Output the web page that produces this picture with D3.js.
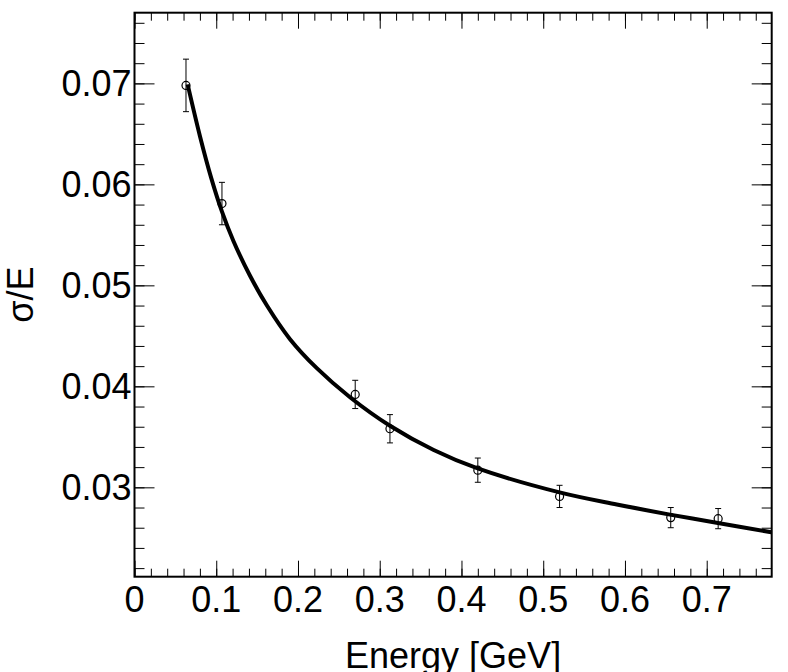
<!DOCTYPE html>
<html>
<head>
<meta charset="utf-8">
<script src="https://cdn.jsdelivr.net/npm/d3@7"></script>
<style>
  body { margin: 0; background: #fff; }
  svg { display: block; }
  text { font-family: "Liberation Sans", Arial, Helvetica, sans-serif; fill: #000; }
</style>
</head>
<body>
<svg id="chart"></svg>
<script>
// measured points (energy in GeV, relative resolution, error)
const energy = [0.063, 0.107, 0.270, 0.3125, 0.420, 0.520, 0.656, 0.714];
const sigmaE = [0.0698, 0.0581, 0.0392, 0.0358, 0.0317, 0.0291, 0.0270, 0.0269];
const sigmaErr = [0.0026, 0.0021, 0.0014, 0.0014, 0.0012, 0.0011, 0.0010, 0.0010];

// fit curve
const fitE = [0.065, 0.080, 0.094, 0.107, 0.121, 0.141, 0.162, 0.190, 0.223, 0.264, 0.3125, 0.366, 0.419, 0.520, 0.590, 0.655, 0.712, 0.779];
const fitSigma = [0.0699, 0.0648, 0.0606, 0.0573, 0.0544, 0.0510, 0.0480, 0.0447, 0.0418, 0.0389, 0.0361, 0.0337, 0.0319, 0.0295, 0.0283, 0.0273, 0.0265, 0.02555];

const xTicks = [0, 0.1, 0.2, 0.3, 0.4, 0.5, 0.6, 0.7];
const yTicks = [0.03, 0.04, 0.05, 0.06, 0.07];
const xTitle = "Energy [GeV]";
const yTitle = "σ/E";

const W = 788, H = 672;
const margin = {top: 12.7, right: 16.3, bottom: 95.3, left: 134.5};
const width = W - margin.left - margin.right;
const height = H - margin.top - margin.bottom;

const svg = d3.select("#chart").attr("width", W).attr("height", H);
const g = svg.append("g").attr("transform", `translate(${margin.left},${margin.top})`);

const x = d3.scaleLinear().domain([0, 0.7795]).range([0, width]);
const y = d3.scaleLinear().domain([0.02115, 0.077]).range([height, 0]);

// ticks on all four sides, pointing inward (ROOT style)
function drawTicks(axisFn, scale, vals, len, transform) {
    g.append("g")
        .attr("transform", transform)
        .call(axisFn(scale).tickValues(vals).tickSize(-len).tickFormat(""))
        .call(s => s.select(".domain").remove())
        .call(s => s.selectAll("line").attr("stroke", "#000").attr("stroke-width", 1));
}
const xMinor = x.ticks(40), yMinor = y.ticks(28);
drawTicks(d3.axisBottom, x, xMinor, 8, `translate(0,${height})`);
drawTicks(d3.axisBottom, x, xTicks, 16, `translate(0,${height})`);
drawTicks(d3.axisTop, x, xMinor, 8, "translate(0,0)");
drawTicks(d3.axisTop, x, xTicks, 16, "translate(0,0)");
drawTicks(d3.axisLeft, y, yMinor, 10, "translate(0,0)");
drawTicks(d3.axisLeft, y, yTicks, 20, "translate(0,0)");
drawTicks(d3.axisRight, y, yMinor, 10, `translate(${width},0)`);
drawTicks(d3.axisRight, y, yTicks, 20, `translate(${width},0)`);

// frame
g.append("rect")
    .attr("width", width).attr("height", height)
    .attr("fill", "none").attr("stroke", "#000").attr("stroke-width", 2);

// tick labels
g.selectAll(".xlab").data(xTicks).enter().append("text")
    .attr("x", d => x(d)).attr("y", height + 35.5)
    .attr("text-anchor", "middle").attr("font-size", 36)
    .text(d => d3.format("~g")(d));
g.selectAll(".ylab").data(yTicks).enter().append("text")
    .attr("x", -3).attr("y", d => y(d) + 13)
    .attr("text-anchor", "end").attr("font-size", 36)
    .text(d => d3.format(".2f")(d));

// axis titles
svg.append("text")
    .attr("x", margin.left + width / 2).attr("y", 668)
    .attr("text-anchor", "middle").attr("font-size", 36)
    .text(xTitle);
svg.append("text")
    .attr("transform", `translate(33,${margin.top + height / 2}) rotate(-90)`)
    .attr("text-anchor", "middle").attr("font-size", 36)
    .text(yTitle);

// fit curve
const line = d3.line().x(d => x(d[0])).y(d => y(d[1])).curve(d3.curveCatmullRom.alpha(0.5));
g.append("path")
    .datum(d3.zip(fitE, fitSigma))
    .attr("d", line)
    .attr("fill", "none").attr("stroke", "#000").attr("stroke-width", 4);

// points with error bars
const pts = d3.zip(energy, sigmaE, sigmaErr);
const eb = g.selectAll(".pt").data(pts).enter().append("g");
eb.append("line")
    .attr("x1", d => x(d[0])).attr("x2", d => x(d[0]))
    .attr("y1", d => y(d[1] + d[2])).attr("y2", d => y(d[1] - d[2]))
    .attr("stroke", "#000").attr("stroke-width", 1);
[1, -1].forEach(s => {
    eb.append("line")
        .attr("x1", d => x(d[0]) - 3).attr("x2", d => x(d[0]) + 3)
        .attr("y1", d => y(d[1] + s * d[2])).attr("y2", d => y(d[1] + s * d[2]))
        .attr("stroke", "#000").attr("stroke-width", 1);
});
eb.append("circle")
    .attr("cx", d => x(d[0])).attr("cy", d => y(d[1]))
    .attr("r", 4).attr("fill", "none").attr("stroke", "#000").attr("stroke-width", 1.2);
</script>
</body>
</html>
